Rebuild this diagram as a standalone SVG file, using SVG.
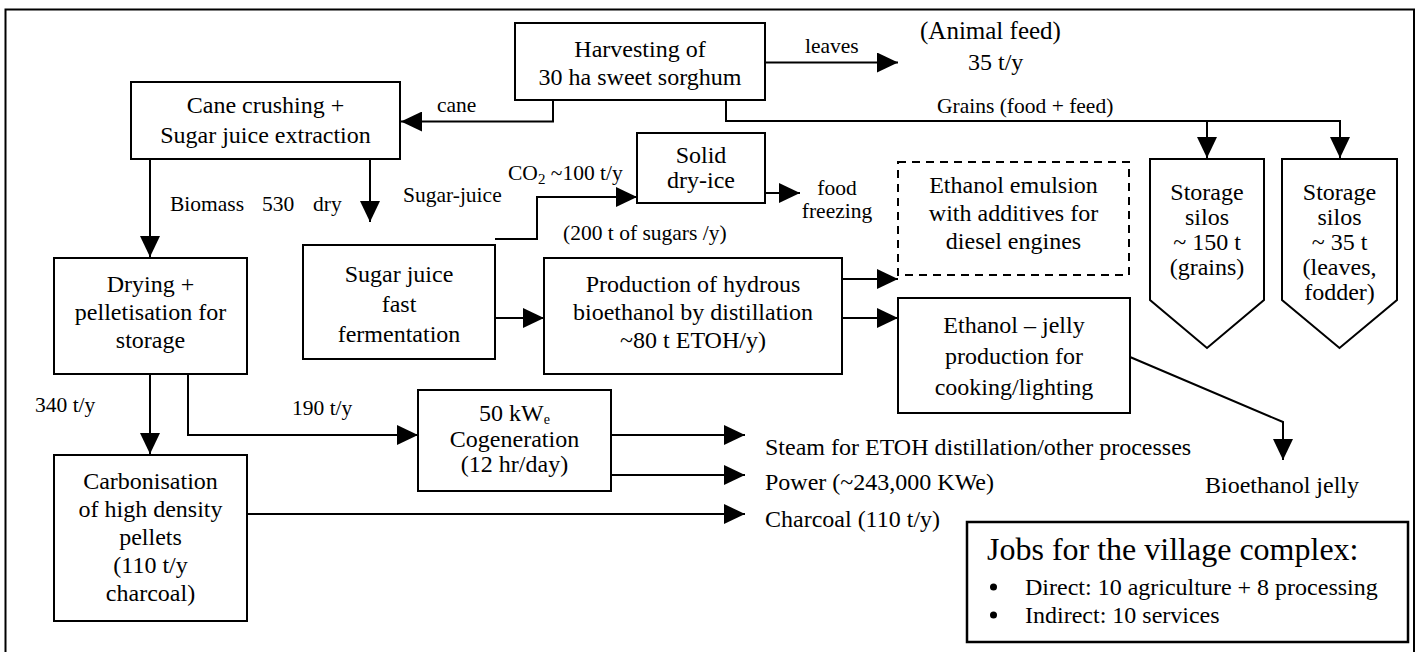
<svg xmlns="http://www.w3.org/2000/svg" width="1419" height="652" viewBox="0 0 1419 652">
<style>
text{font-family:'Liberation Serif','Times New Roman',Tinos,'DejaVu Serif',serif;fill:#000}
.n{font-size:24px;text-anchor:middle}
.l{font-size:21.5px}
.box{fill:#fff;stroke:#000;stroke-width:2}
.c{fill:none;stroke:#000;stroke-width:2}
</style>
<defs>
<marker id="ah" markerUnits="userSpaceOnUse" markerWidth="22" markerHeight="20" refX="21" refY="10" orient="auto">
<path d="M0,0 L21,10 L0,20 Z" fill="#000"/>
</marker>
</defs>
<rect width="1419" height="652" fill="#fff"/>
<path d="M5.5,660 V9.5 H1414 V660" fill="none" stroke="#000" stroke-width="2"/>

<g font-family="Liberation Serif, Times New Roman, serif">
<g id="connectors">
<path class="c" d="M553,100 V121.5 H401" marker-end="url(#ah)"/>
<path class="c" d="M765,62.5 H898" marker-end="url(#ah)"/>
<path class="c" d="M726,100 V121 H1340 V158" marker-end="url(#ah)"/>
<path class="c" d="M1207,121 V158" marker-end="url(#ah)"/>
<path class="c" d="M370,160 V222" marker-end="url(#ah)"/>
<path class="c" d="M150,159 V257" marker-end="url(#ah)"/>
<path class="c" d="M495,239 H537 V197 H637" marker-end="url(#ah)"/>
<path class="c" d="M765,193 H800" marker-end="url(#ah)"/>
<path class="c" d="M495,318 H544" marker-end="url(#ah)"/>
<path class="c" d="M842,279 H898" marker-end="url(#ah)"/>
<path class="c" d="M842,318 H898" marker-end="url(#ah)"/>
<path class="c" d="M1130,357 L1283,422 V460" marker-end="url(#ah)"/>
<path class="c" d="M150,374 V454" marker-end="url(#ah)"/>
<path class="c" d="M188,374 V435 H418" marker-end="url(#ah)"/>
<path class="c" d="M611,435 H745" marker-end="url(#ah)"/>
<path class="c" d="M611,475 H745" marker-end="url(#ah)"/>
<path class="c" d="M247,514 H745" marker-end="url(#ah)"/>
</g>

<g id="labels">
<text class="l" x="437" y="112">cane</text>
<text class="l" x="805" y="53">leaves</text>
<text x="920" y="39" font-size="25">(Animal feed)</text>
<text x="968" y="70" font-size="24">35 t/y</text>
<text class="l" x="937" y="113">Grains (food + feed)</text>
<text class="l" x="170" y="211">Biomass</text>
<text class="l" x="262" y="211">530</text>
<text class="l" x="313" y="211">dry</text>
<text class="l" x="403" y="202">Sugar-juice</text>
<text class="l" x="508" y="180">CO<tspan font-size="15" dy="4">2</tspan><tspan dy="-4"> ~100 t/y</tspan></text>
<text class="l" x="563" y="240">(200 t of sugars /y)</text>
<text class="l" x="837" y="195" text-anchor="middle">food</text>
<text class="l" x="837" y="218" text-anchor="middle">freezing</text>
<text class="l" x="35" y="412">340 t/y</text>
<text class="l" x="292" y="415">190 t/y</text>
<text x="765" y="455" font-size="24">Steam for ETOH distillation/other processes</text>
<text x="765" y="490" font-size="24">Power (~243,000 KWe)</text>
<text x="765" y="527" font-size="24">Charcoal (110 t/y)</text>
<text x="1205" y="493" font-size="24">Bioethanol jelly</text>
</g>

<g id="harvest">
<rect class="box" x="515" y="23" width="250" height="77"/>
<text class="n" x="640" y="57">Harvesting of</text>
<text class="n" x="640" y="85">30 ha sweet sorghum</text>
</g>

<g id="cane-crushing">
<rect class="box" x="131" y="82" width="269" height="77"/>
<text class="n" x="265.5" y="113">Cane crushing +</text>
<text class="n" x="265.5" y="143">Sugar juice extraction</text>
</g>

<g id="dry-ice">
<rect class="box" x="637" y="133" width="128" height="70"/>
<text class="n" x="701" y="163" font-size="21">Solid</text>
<text class="n" x="701" y="188" font-size="21">dry-ice</text>
</g>

<g id="emulsion">
<rect x="898" y="162" width="231" height="113" fill="#fff" stroke="#000" stroke-width="2" stroke-dasharray="8,6"/>
<text class="n" x="1013.5" y="193">Ethanol emulsion</text>
<text class="n" x="1013.5" y="221">with additives for</text>
<text class="n" x="1013.5" y="249">diesel engines</text>
</g>

<g id="silo-grains">
<polygon class="box" points="1150,159 1264,159 1264,300 1207,348 1150,300"/>
<text class="n" x="1207" y="200" font-size="21">Storage</text>
<text class="n" x="1207" y="225" font-size="21">silos</text>
<text class="n" x="1207" y="250" font-size="21">~ 150 t</text>
<text class="n" x="1207" y="275" font-size="21">(grains)</text>
</g>

<g id="silo-leaves">
<polygon class="box" points="1282,159 1397,159 1397,300 1339.5,348 1282,300"/>
<text class="n" x="1339.5" y="200" font-size="21">Storage</text>
<text class="n" x="1339.5" y="225" font-size="21">silos</text>
<text class="n" x="1339.5" y="250" font-size="21">~ 35 t</text>
<text class="n" x="1339.5" y="275" font-size="21">(leaves,</text>
<text class="n" x="1339.5" y="300" font-size="21">fodder)</text>
</g>

<g id="drying">
<rect class="box" x="54" y="258" width="193" height="116"/>
<text class="n" x="150.5" y="292">Drying +</text>
<text class="n" x="150.5" y="320">pelletisation for</text>
<text class="n" x="150.5" y="348">storage</text>
</g>

<g id="fermentation">
<rect class="box" x="303" y="245" width="192" height="114"/>
<text class="n" x="399" y="282" font-size="26">Sugar juice</text>
<text class="n" x="399" y="312" font-size="26">fast</text>
<text class="n" x="399" y="342" font-size="26">fermentation</text>
</g>

<g id="distillation">
<rect class="box" x="544" y="258" width="298" height="116"/>
<text class="n" x="693" y="292">Production of hydrous</text>
<text class="n" x="693" y="320">bioethanol by distillation</text>
<text class="n" x="693" y="348">~80 t ETOH/y)</text>
</g>

<g id="jelly">
<rect class="box" x="898" y="298" width="232" height="115"/>
<text class="n" x="1014" y="333" font-size="26">Ethanol – jelly</text>
<text class="n" x="1014" y="364" font-size="26">production for</text>
<text class="n" x="1014" y="395" font-size="26">cooking/lighting</text>
</g>

<g id="cogeneration">
<rect class="box" x="418" y="390" width="193" height="101"/>
<text class="n" x="514.5" y="421" font-size="21">50 kW<tspan font-size="14" dy="3">e</tspan></text>
<text class="n" x="514.5" y="447" font-size="21">Cogeneration</text>
<text class="n" x="514.5" y="472" font-size="21">(12 hr/day)</text>
</g>

<g id="carbonisation">
<rect class="box" x="54" y="455" width="193" height="166"/>
<text class="n" x="150.5" y="489">Carbonisation</text>
<text class="n" x="150.5" y="517">of high density</text>
<text class="n" x="150.5" y="545">pellets</text>
<text class="n" x="150.5" y="573">(110 t/y</text>
<text class="n" x="150.5" y="601">charcoal)</text>
</g>

<g id="jobs">
<rect x="967" y="522" width="441" height="120" fill="#fff" stroke="#000" stroke-width="2.5"/>
<text x="987" y="560" font-size="32">Jobs for the village complex:</text>
<circle cx="993.5" cy="587" r="3.5" fill="#000"/>
<circle cx="993.5" cy="615" r="3.5" fill="#000"/>
<text x="1025" y="595" font-size="24">Direct: 10 agriculture + 8 processing</text>
<text x="1025" y="623" font-size="24">Indirect: 10 services</text>
</g>
</g>
</svg>
